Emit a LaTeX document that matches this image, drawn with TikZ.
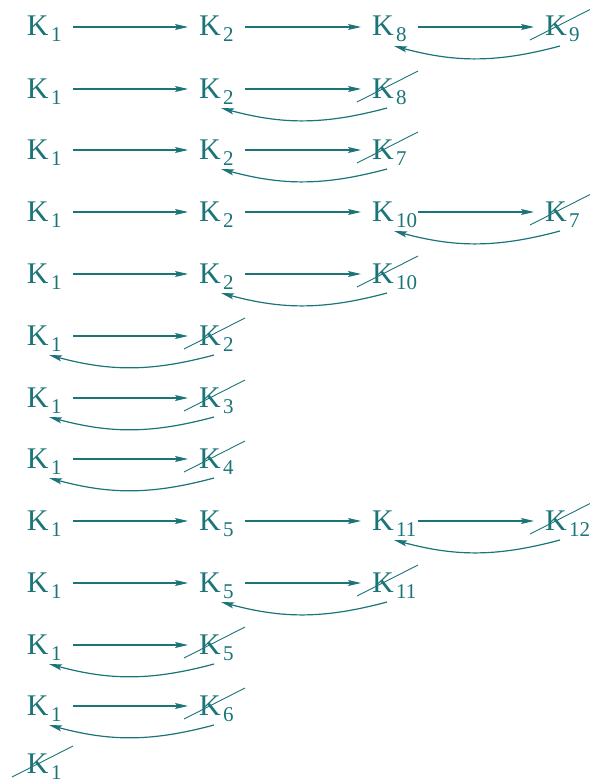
\documentclass[tikz,border=0pt]{standalone}
\usepackage{fontspec}
\setmainfont{Liberation Serif}
\usetikzlibrary{arrows.meta}
\definecolor{ink}{RGB}{26,116,120}
% a state label: K with a lowered index
\newcommand\Kk[1]{K\hspace{2.5pt}\raisebox{-6pt}{\fontsize{21}{21}\selectfont #1}}
% forward step between two states of one row
\newcommand\kfwd[2]{\draw[link] ([shift={(46,-9)}]#1.base west) -- ([shift={(-11,-9)}]#2.base west);}
% backtrack from a rejected state to its predecessor
\newcommand\kback[2]{\draw[link] ([shift={(15,10)}]#1.base west) to[bend left=15] ([shift={(22,10)}]#2.base west);}
% a state struck out
\newcommand\kcross[1]{\draw[cross] ([shift={(-15,4)}]#1.base west) -- ([shift={(46,-27)}]#1.base west);}
\begin{document}
\begin{tikzpicture}[x=1pt,y=-1pt,
  kn/.style={anchor=base west, inner sep=0pt, outer sep=0pt, text=ink,
             font=\fontsize{30}{30}\selectfont},
  link/.style={draw=ink, line width=1.2pt,
               -{Stealth[length=13pt,width=6pt,inset=2.5pt]}},
  cross/.style={draw=ink, line width=0.9pt}]
\useasboundingbox (0,0) rectangle (589,784);

% row 1
\node[kn] (a1) at (27,36) {\Kk{1}};
\node[kn] (b1) at (199,36) {\Kk{2}};
\node[kn] (c1) at (372,36) {\Kk{8}};
\node[kn] (d1) at (545,36) {\Kk{9}};
\kfwd{a1}{b1} \kfwd{b1}{c1} \kfwd{c1}{d1} \kcross{d1} \kback{d1}{c1}

% row 2
\node[kn] (a2) at (27,98) {\Kk{1}};
\node[kn] (b2) at (199,98) {\Kk{2}};
\node[kn] (c2) at (372,98) {\Kk{8}};
\kfwd{a2}{b2} \kfwd{b2}{c2} \kcross{c2} \kback{c2}{b2}

% row 3
\node[kn] (a3) at (27,159) {\Kk{1}};
\node[kn] (b3) at (199,159) {\Kk{2}};
\node[kn] (c3) at (372,159) {\Kk{7}};
\kfwd{a3}{b3} \kfwd{b3}{c3} \kcross{c3} \kback{c3}{b3}

% row 4
\node[kn] (a4) at (27,221) {\Kk{1}};
\node[kn] (b4) at (199,221) {\Kk{2}};
\node[kn] (c4) at (372,221) {\Kk{10}};
\node[kn] (d4) at (545,221) {\Kk{7}};
\kfwd{a4}{b4} \kfwd{b4}{c4} \kfwd{c4}{d4} \kcross{d4} \kback{d4}{c4}

% row 5
\node[kn] (a5) at (27,283) {\Kk{1}};
\node[kn] (b5) at (199,283) {\Kk{2}};
\node[kn] (c5) at (372,283) {\Kk{10}};
\kfwd{a5}{b5} \kfwd{b5}{c5} \kcross{c5} \kback{c5}{b5}

% row 6
\node[kn] (a6) at (27,345) {\Kk{1}};
\node[kn] (b6) at (199,345) {\Kk{2}};
\kfwd{a6}{b6} \kcross{b6} \kback{b6}{a6}

% row 7
\node[kn] (a7) at (27,407) {\Kk{1}};
\node[kn] (b7) at (199,407) {\Kk{3}};
\kfwd{a7}{b7} \kcross{b7} \kback{b7}{a7}

% row 8
\node[kn] (a8) at (27,468) {\Kk{1}};
\node[kn] (b8) at (199,468) {\Kk{4}};
\kfwd{a8}{b8} \kcross{b8} \kback{b8}{a8}

% row 9
\node[kn] (a9) at (27,530) {\Kk{1}};
\node[kn] (b9) at (199,530) {\Kk{5}};
\node[kn] (c9) at (372,530) {\Kk{11}};
\node[kn] (d9) at (545,530) {\Kk{12}};
\kfwd{a9}{b9} \kfwd{b9}{c9} \kfwd{c9}{d9} \kcross{d9} \kback{d9}{c9}

% row 10
\node[kn] (a10) at (27,592) {\Kk{1}};
\node[kn] (b10) at (199,592) {\Kk{5}};
\node[kn] (c10) at (372,592) {\Kk{11}};
\kfwd{a10}{b10} \kfwd{b10}{c10} \kcross{c10} \kback{c10}{b10}

% row 11
\node[kn] (a11) at (27,654) {\Kk{1}};
\node[kn] (b11) at (199,654) {\Kk{5}};
\kfwd{a11}{b11} \kcross{b11} \kback{b11}{a11}

% row 12
\node[kn] (a12) at (27,715) {\Kk{1}};
\node[kn] (b12) at (199,715) {\Kk{6}};
\kfwd{a12}{b12} \kcross{b12} \kback{b12}{a12}

% row 13
\node[kn] (a13) at (27,773) {\Kk{1}};
\kcross{a13}
\end{tikzpicture}
\end{document}
